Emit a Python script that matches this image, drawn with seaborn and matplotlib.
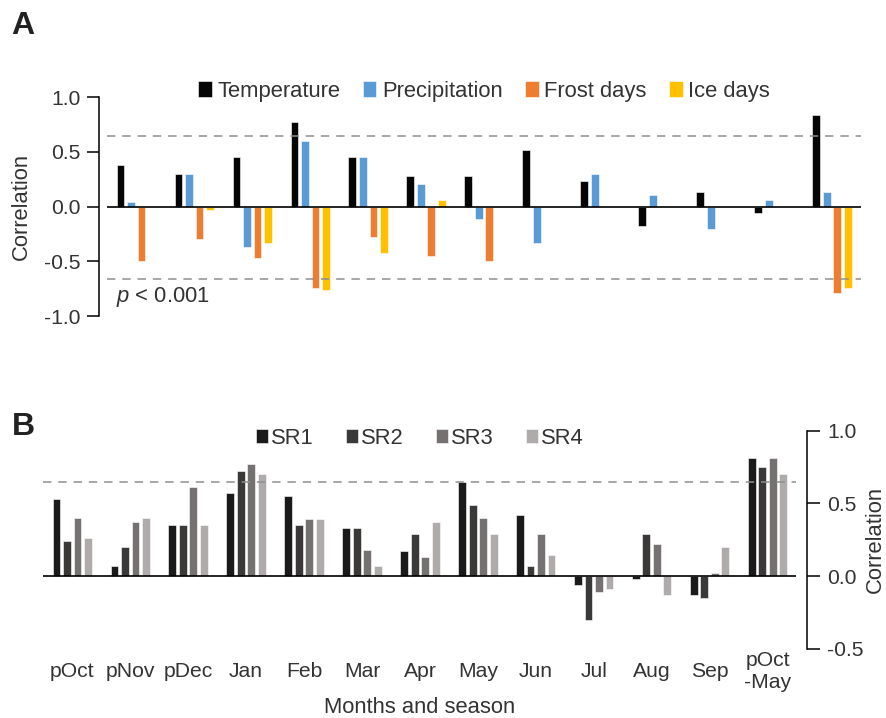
import numpy as np
import pandas as pd
import matplotlib
matplotlib.use("Agg")
import matplotlib.pyplot as plt
import seaborn as sns

# ---- data -------------------------------------------------------------
months = ["pOct", "pNov", "pDec", "Jan", "Feb", "Mar", "Apr", "May",
          "Jun", "Jul", "Aug", "Sep", "pOct\n-May"]

nan = np.nan
# Panel A: climate correlations
temperature   = [0.38, 0.30, 0.45, 0.77, 0.45, 0.28, 0.28, 0.52, 0.23, -0.18, 0.13, -0.06, 0.84]
precipitation = [0.04, 0.30, -0.37, 0.60, 0.45, 0.21, -0.11, -0.33, 0.30, 0.11, -0.20, 0.06, 0.13]
frost_days    = [-0.50, -0.30, -0.47, -0.74, -0.28, -0.45, -0.50, nan, nan, nan, nan, nan, -0.79]
ice_days      = [nan, -0.03, -0.33, -0.76, -0.42, 0.06, nan, nan, nan, nan, nan, nan, -0.74]
climate_names = ["Temperature", "Precipitation", "Frost days", "Ice days"]
climate_colors = ["#050505", "#5b9bd5", "#ed7d31", "#ffc000"]

# Panel B: site-record correlations
sr1 = [0.53, 0.07, 0.35, 0.57, 0.55, 0.33, 0.17, 0.65, 0.42, -0.06, -0.02, -0.13, 0.81]
sr2 = [0.24, 0.20, 0.35, 0.72, 0.35, 0.33, 0.29, 0.49, 0.07, -0.30, 0.29, -0.15, 0.75]
sr3 = [0.40, 0.37, 0.61, 0.77, 0.39, 0.18, 0.13, 0.40, 0.29, -0.11, 0.22, 0.02, 0.81]
sr4 = [0.26, 0.40, 0.35, 0.70, 0.39, 0.07, 0.37, 0.29, 0.145, -0.09, -0.13, 0.20, 0.70]
sr_names = ["SR1", "SR2", "SR3", "SR4"]
sr_colors = ["#1a1a1a", "#3b3838", "#767171", "#afabab"]

sig_upper_a, sig_lower_a = 0.65, -0.66
sig_b = 0.65

yticks_a = [1.0, 0.5, 0.0, -0.5, -1.0]
yticks_b = [1.0, 0.5, 0.0, -0.5]


def long_frame(series, names):
    rows = []
    for name, vals in zip(names, series):
        for m, v in zip(months, vals):
            if not np.isnan(v):
                rows.append({"month": m, "var": name, "r": v})
    return pd.DataFrame(rows)


df_a = long_frame([temperature, precipitation, frost_days, ice_days], climate_names)
df_b = long_frame([sr1, sr2, sr3, sr4], sr_names)

# ---- style ------------------------------------------------------------
sns.set_theme(style="white")
plt.rcParams["font.family"] = ["Liberation Sans", "DejaVu Sans"]
plt.rcParams["mathtext.fontset"] = "custom"
plt.rcParams["mathtext.it"] = "Liberation Sans:italic"
plt.rcParams["mathtext.rm"] = "Liberation Sans"
TXT = "#333333"
FS_TICK = 15.2
FS_TXT = 15.8

fig = plt.figure(figsize=(8.87, 7.18), dpi=100)
W, H = 887, 718
axA = fig.add_axes([107.3 / W, 1 - 316 / H, (861 - 107.3) / W, (316 - 97.3) / H])
axB = fig.add_axes([43.3 / W, 1 - 648.7 / H, (796.5 - 43.3) / W, (648.7 - 430.7) / H])

bar_kw = dict(width=0.725, gap=0.25, errorbar=None, saturation=1,
              edgecolor="white", linewidth=0.4)
dash = (0, (5.5, 4.5))

# ---- panel A ----------------------------------------------------------
sns.barplot(data=df_a, x="month", y="r", hue="var", order=months,
            hue_order=climate_names, palette=climate_colors, ax=axA, **bar_kw)
axA.set_xlim(-0.5, len(months) - 0.5)
axA.set_ylim(-1.0, 1.0)
axA.axhline(0, color="black", lw=1.2, zorder=3)
for yv in (sig_upper_a, sig_lower_a):
    axA.axhline(yv, color="#8f8f8f", lw=1.1, ls=dash, zorder=1)
axA.set_yticks(yticks_a)
axA.set_yticklabels([f"{t:.1f}" for t in yticks_a])
axA.tick_params(axis="y", left=True, length=9, width=1.1, pad=4.5,
                labelsize=FS_TICK, labelcolor=TXT, color="black", direction="out")
axA.tick_params(axis="x", bottom=False, labelbottom=False)
axA.set_xlabel("")
axA.set_ylabel("Correlation", fontsize=FS_TXT, color=TXT, labelpad=9)
for s in ("top", "right", "bottom"):
    axA.spines[s].set_visible(False)
axA.spines["left"].set_position(("outward", 5.8))
axA.spines["left"].set_color("black")
axA.spines["left"].set_linewidth(1.1)
axA.text(-0.35, -0.825, r"$p$ < 0.001", fontsize=FS_TXT, color=TXT, va="center", ha="left")

h, l = axA.get_legend_handles_labels()
axA.legend(h, l, ncol=4, frameon=False, loc="center", bbox_to_anchor=(0.5, 1.026),
           fontsize=FS_TXT, handlelength=0.6, handleheight=0.75, handletextpad=0.25,
           columnspacing=1.05, labelcolor=TXT, borderaxespad=0)

# ---- panel B ----------------------------------------------------------
sns.barplot(data=df_b, x="month", y="r", hue="var", order=months,
            hue_order=sr_names, palette=sr_colors, ax=axB, **bar_kw)
axB.set_xlim(-0.5, len(months) - 0.5)
axB.set_ylim(-0.5, 1.0)
axB.axhline(0, color="black", lw=1.2, zorder=3)
axB.axhline(sig_b, color="#8f8f8f", lw=1.1, ls=dash, zorder=1)
axB.yaxis.tick_right()
axB.yaxis.set_label_position("right")
axB.set_yticks(yticks_b)
axB.set_yticklabels([f"{t:.1f}" for t in yticks_b])
axB.tick_params(axis="y", right=True, left=False, length=9.5, width=1.1, pad=5,
                labelsize=FS_TICK, labelcolor=TXT, color="black", direction="out")
axB.set_xticks(range(len(months)))
axB.set_xticklabels(months, va="center", fontsize=FS_TICK, color=TXT)
axB.tick_params(axis="x", bottom=False, pad=10.5)
axB.set_xlabel("Months and season", fontsize=FS_TXT, color=TXT)
axB.xaxis.set_label_coords(0.5, -0.222)
axB.set_ylabel("Correlation", fontsize=FS_TXT, color=TXT, labelpad=1)
for s in ("top", "left", "bottom"):
    axB.spines[s].set_visible(False)
axB.spines["right"].set_position(("outward", 7.4))
axB.spines["right"].set_color("black")
axB.spines["right"].set_linewidth(1.1)

h, l = axB.get_legend_handles_labels()
axB.legend(h, l, ncol=4, frameon=False, loc="center", bbox_to_anchor=(0.5, 0.966),
           fontsize=FS_TXT, handlelength=0.55, handleheight=0.65, handletextpad=0.15,
           columnspacing=1.45, labelcolor=TXT, borderaxespad=0)

# ---- panel letters ----------------------------------------------------
fig.text(11 / W, 1 - 34 / H, "A", fontsize=23, fontweight="bold", color="#222222",
         va="baseline", ha="left")
fig.text(12 / W, 1 - 435 / H, "B", fontsize=23, fontweight="bold", color="#222222",
         va="baseline", ha="left")

fig.savefig("out.png", dpi=100)
